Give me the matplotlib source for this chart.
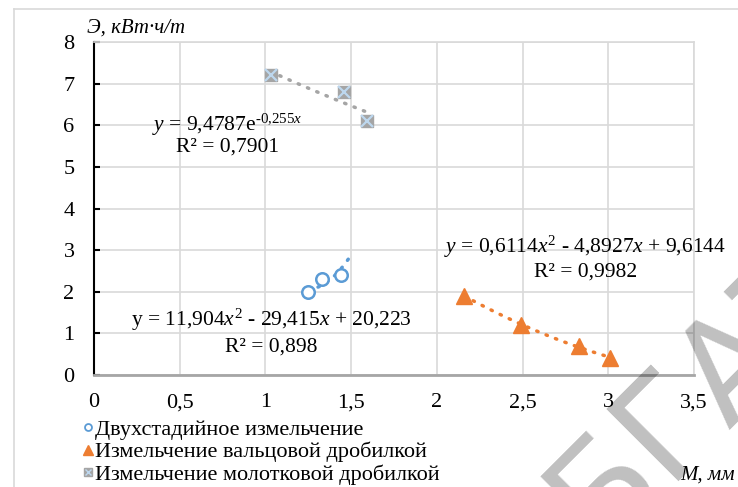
import matplotlib
matplotlib.use('Agg')
import matplotlib.pyplot as plt
import numpy as np
from matplotlib.lines import Line2D
from matplotlib.legend_handler import HandlerTuple

plt.rcParams['font.family'] = ['Liberation Serif', 'DejaVu Serif']
plt.rcParams['mathtext.fontset'] = 'custom'
plt.rcParams['mathtext.rm'] = 'Liberation Serif'
plt.rcParams['mathtext.it'] = 'Liberation Serif:italic'

# ---- data ----
two_stage_x = [1.25, 1.33, 1.44]
two_stage_y = [2.0, 2.3, 2.4]
roller_x = [2.16, 2.49, 2.83, 3.01]
roller_y = [1.9, 1.2, 0.7, 0.4]
hammer_x = [1.03, 1.46, 1.59]
hammer_y = [7.2, 6.8, 6.1]

two_stage_coef = [11.904, -29.415, 20.223]
two_stage_trend_range = [1.25, 1.50]
roller_coef = [0.6114, -4.8927, 9.6144]
roller_trend_range = [2.16, 3.01]
hammer_coef = [9.4787, -0.255]
hammer_trend_range = [1.03, 1.59]

labels = ['Двухстадийное измельчение',
          'Измельчение вальцовой дробилкой',
          'Измельчение молотковой дробилкой']
x_ticks = [0, 0.5, 1, 1.5, 2, 2.5, 3, 3.5]
x_tick_labels = ['0', '0,5', '1', '1,5', '2', '2,5', '3', '3,5']
y_ticks = [0, 1, 2, 3, 4, 5, 6, 7, 8]
y_tick_labels = ['0', '1', '2', '3', '4', '5', '6', '7', '8']

eq_two_stage = ['y = 11,904$x^2$ - 29,415$x$ + 20,223', 'R² = 0,898']
eq_roller = ['$y$ = 0,6114$x^2$ - 4,8927$x$ + 9,6144', 'R² = 0,9982']
eq_hammer = ['$y$ = 9,4787e$^{\u2010 0{,}255x}$', 'R² = 0,7901']

BLUE = '#5B9BD5'
ORANGE = '#ED7D31'
GRAY = '#A5A5A5'
XBLUE = '#BDD7EE'
GRID = '#D9D9D9'

W, H = 738, 487
fig = plt.figure(figsize=(W / 100, H / 100), dpi=100)
ax = fig.add_axes([94 / W, 1 - 375 / H, 600 / W, 333 / H])
ax.set_xlim(0, 3.5)
ax.set_ylim(0, 8)

ax.set_xticks(x_ticks)
ax.set_xticklabels(x_tick_labels)
ax.set_yticks(y_ticks)
ax.set_yticklabels(y_tick_labels)
ax.grid(True, color=GRID, lw=1.2, zorder=0)
ax.set_axisbelow(True)
ax.tick_params(axis='x', length=0, pad=13, labelsize=16)
ax.tick_params(axis='y', direction='in', length=4, width=1.5, pad=14, labelsize=16)
for s in ['top', 'right']:
    ax.spines[s].set_color(GRID)
    ax.spines[s].set_linewidth(1.2)
ax.spines['left'].set_color('black')
ax.spines['left'].set_linewidth(1.5)
ax.spines['bottom'].set_color('#A6A6A6')
ax.spines['bottom'].set_linewidth(2)

dot = dict(lw=2.5, linestyle=(0, (0.4, 2.5)), dash_capstyle='round', zorder=2)

# trend lines
xt = np.linspace(*two_stage_trend_range, 50)
ax.plot(xt, np.polyval(two_stage_coef, xt), color=BLUE, **dot)
xt = np.linspace(*roller_trend_range, 50)
ax.plot(xt, np.polyval(roller_coef, xt), color=ORANGE, **dot)
xt = np.linspace(*hammer_trend_range, 50)
ax.plot(xt, hammer_coef[0] * np.exp(hammer_coef[1] * xt), color=GRAY, **dot)

# markers
ax.plot(two_stage_x, two_stage_y, 'o', ms=9, mfc='white', mec=BLUE, mew=1.8, zorder=3)
ax.plot(roller_x, roller_y, '^', ms=11, color=ORANGE, zorder=3)
ax.plot(hammer_x, hammer_y, 's', ms=9, color=GRAY, zorder=3)
ax.plot(hammer_x, hammer_y, 'x', ms=8, mew=1.6, color=XBLUE, zorder=4)

# equations
fs_eq = 15.5
ax.text(1.035, 1.178, eq_two_stage[0], ha='center', va='baseline', fontsize=fs_eq)
ax.text(1.035, 0.56, eq_two_stage[1], ha='center', va='baseline', fontsize=fs_eq)
ax.text(2.865, 2.925, eq_roller[0], ha='center', va='baseline', fontsize=fs_eq)
ax.text(2.865, 2.363, eq_roller[1], ha='center', va='baseline', fontsize=fs_eq)
ax.text(0.78, 5.865, eq_hammer[0], ha='center', va='baseline', fontsize=fs_eq)
ax.text(0.78, 5.36, eq_hammer[1], ha='center', va='baseline', fontsize=fs_eq)

# axis titles
fig.text(87 / W, 1 - 28 / H, 'Э, кВт·ч/т', style='italic', fontsize=15, va='center', ha='left')
fig.text(735 / W, 1 - 475 / H, 'М, мм', style='italic', fontsize=15, va='center', ha='right')

# legend
h1 = Line2D([], [], marker='o', ls='none', ms=5, mfc='white', mec=BLUE, mew=1.3)
h2 = Line2D([], [], marker='^', ls='none', ms=6.5, color=ORANGE)
h3a = Line2D([], [], marker='s', ls='none', ms=5.5, color=GRAY)
h3b = Line2D([], [], marker='x', ls='none', ms=5, mew=1, color=XBLUE)
fig.legend([h1, h2, (h3a, h3b)], labels, loc='upper left',
           bbox_to_anchor=(82 / W, 1 - 419 / H), frameon=False, fontsize=16,
           handlelength=0.55, handletextpad=0.05, labelspacing=0.1,
           borderaxespad=0, borderpad=0,
           handler_map={tuple: HandlerTuple(ndivide=1)})

# outer chart border
fig.add_artist(Line2D([14 / W, 1], [1 - 9 / H, 1 - 9 / H], transform=fig.transFigure, color=GRID, lw=1.2))
fig.add_artist(Line2D([14 / W, 14 / W], [0, 1 - 9 / H], transform=fig.transFigure, color=GRID, lw=1.2))

# watermark
fig.text(598 / W, 1 - 548 / H, 'БГАТУ', rotation=45, rotation_mode='anchor',
         ha='left', va='baseline', fontsize=100, family='DejaVu Sans',
         color='black', alpha=0.25, zorder=10)

fig.savefig('out.png', dpi=100)
